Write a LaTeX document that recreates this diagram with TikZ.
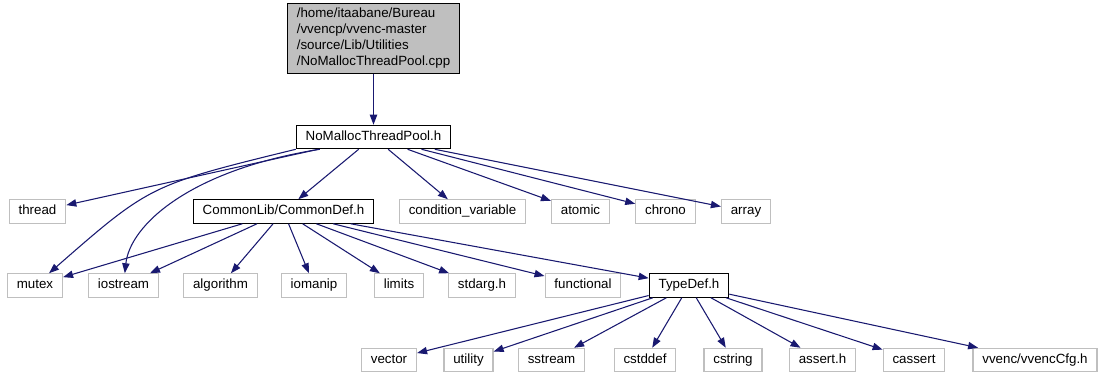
\documentclass[tikz,border=0pt]{standalone}
\usepackage{fontspec}
\setmainfont{Liberation Sans}
\usetikzlibrary{arrows.meta}
\definecolor{edgeblue}{RGB}{25,25,112}
\definecolor{leafgray}{RGB}{191,191,191}
\tikzset{
  file/.style={draw=black,line width=0.9pt,fill=white,inner xsep=7pt,inner ysep=0pt,
    text height=7.5pt,text depth=2.5pt,minimum height=17.5pt,font=\fontsize{10}{12}\selectfont},
  leaf/.style={file,draw=leafgray},
  dep/.style={edgeblue,line width=0.8pt,-{Triangle[length=7.5pt,width=5.5pt]}},
}
\begin{document}
\begin{tikzpicture}[x=0.75pt,y=-0.75pt]
   \useasboundingbox (0,0) rectangle (1105,380);
   % top file and its header
   \node [draw=black,line width=0.9pt,fill=leafgray,align=left,inner xsep=7pt,
     minimum width=128pt,minimum height=51.5pt,font=\fontsize{10}{12}\selectfont] (root) at (373.5,38.5)
     {/home/itaabane/Bureau\\/vvencp/vvenc-master\\/source/Lib/Utilities\\/NoMallocThreadPool.cpp};
   \node [file] (pool) at (373.5,137) {NoMallocThreadPool.h};
   % second row
   \node [leaf] (thread) at (37.5,211.5) {thread};
   \node [file] (cdef) at (283.5,211.5) {CommonLib/CommonDef.h};
   \node [leaf] (condvar) at (462.5,211.5) {condition\_variable};
   \node [leaf] (atomic) at (580.5,211.5) {atomic};
   \node [leaf] (chrono) at (665.5,211.5) {chrono};
   \node [leaf] (array) at (746,211.5) {array};
   % third row
   \node [leaf] (mutex) at (35,285.5) {mutex};
   \node [leaf] (iostream) at (123.5,285.5) {iostream};
   \node [leaf] (algorithm) at (220.5,285.5) {algorithm};
   \node [leaf] (iomanip) at (314,285.5) {iomanip};
   \node [leaf] (limits) at (399,285.5) {limits};
   \node [leaf] (stdarg) at (482,285.5) {stdarg.h};
   \node [leaf] (functional) at (583,285.5) {functional};
   \node [file] (tdef) at (689,285.5) {TypeDef.h};
   % fourth row
   \node [leaf] (vector) at (389,360) {vector};
   \node [leaf] (utility) at (468.5,360) {utility};
   \node [leaf] (sstream) at (551.5,360) {sstream};
   \node [leaf] (cstddef) at (645,360) {cstddef};
   \node [leaf] (cstring) at (733,360) {cstring};
   \node [leaf] (asserth) at (822.5,360) {assert.h};
   \node [leaf] (cassert) at (914,360) {cassert};
   \node [leaf] (cfg) at (1035,360) {vvenc/vvencCfg.h};
   % includes
   \draw [dep] (root) -- (pool);
   \draw [dep] (pool) -- (thread);
   \draw [dep] (pool.south west) .. controls (150,185) .. (mutex);
   \draw [dep] ([xshift=18pt]pool.south west) .. controls (190,170) and (130,225) .. (iostream);
   \draw [dep] (pool) -- (cdef);
   \draw [dep] (pool) -- (condvar);
   \draw [dep] (pool) -- (atomic);
   \draw [dep] (pool) -- (chrono);
   \draw [dep] (pool) -- (array);
   \foreach \t in {mutex,iostream,algorithm,iomanip,limits,stdarg,functional,tdef}
     \draw [dep] (cdef) -- (\t);
   \foreach \t in {vector,utility,sstream,cstddef,cstring,asserth,cassert,cfg}
     \draw [dep] (tdef) -- (\t);
\end{tikzpicture}
\end{document}
